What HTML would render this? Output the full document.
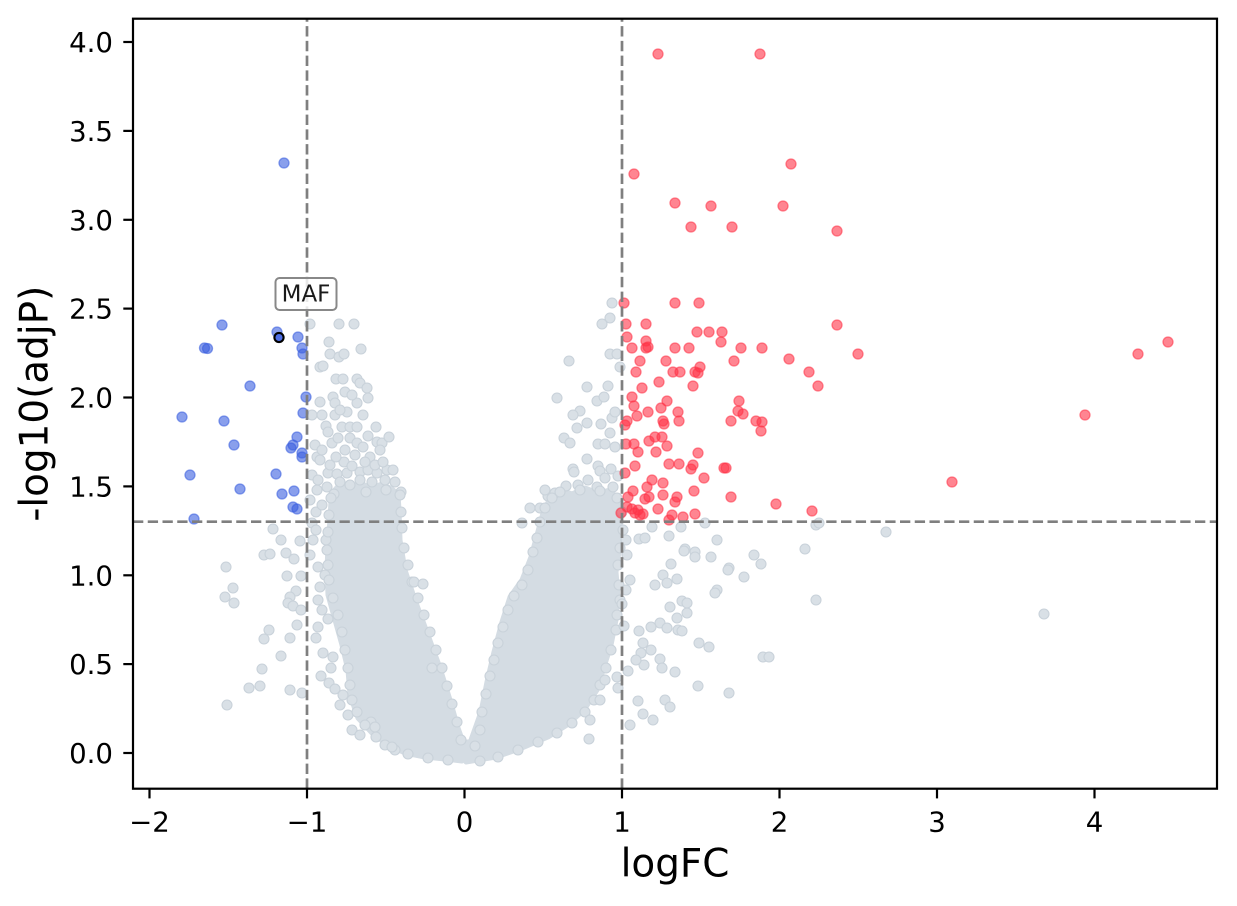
<!DOCTYPE html>
<html><head><meta charset="utf-8"><style>
html,body{margin:0;padding:0;background:#fff;}
svg{display:block;}
text{font-family:"DejaVu Sans","Liberation Sans",sans-serif;fill:#000;}
.g circle{fill:#d9e0e6;stroke:#c9d2da;stroke-width:1.1;}
.b circle{fill:#3a5fe0;fill-opacity:.6;stroke:#3a5fe0;stroke-opacity:.6;stroke-width:1.3;}
.r circle{fill:#ff3347;fill-opacity:.6;stroke:#ff3347;stroke-opacity:.6;stroke-width:1.3;}
</style></head><body>
<svg width="1237" height="906" viewBox="0 0 1237 906" xmlns="http://www.w3.org/2000/svg">
<rect width="1237" height="906" fill="#fff"/>
<!-- dense gray masses -->
<g fill="#d4dce3" stroke="#d4dce3" stroke-width="5" stroke-linejoin="round">
<polygon points="333,492 340,484 350,488 360,483 372,488 382,484 392,489 398,494 399,510 400,540 405,570 415,600 428,635 440,668 450,700 458,728 463,742 470,742 466,755 462,761 445,759 425,757 405,753 388,745 372,733 358,718 350,695 348,670 342,645 335,620 328,595 327,570 328,545 330,520 331,500"/>
<polygon points="466,762 466,752 471,740 481,712 487,682 494,652 502,622 510,597 522,580 531,557 537,535 543,513 550,498 560,490 572,494 585,488 598,493 610,490 617,498 620,510 621,530 619,552 616,572 618,596 616,620 611,645 604,667 597,690 584,710 567,725 548,737 522,748 496,757"/>
</g>
<g class="g">
<circle cx="310" cy="324" r="5"/><circle cx="339" cy="324" r="5"/><circle cx="354" cy="324" r="5"/><circle cx="329" cy="342" r="5"/><circle cx="361" cy="349" r="5"/><circle cx="330" cy="354" r="5"/><circle cx="339" cy="357" r="5"/><circle cx="344" cy="354" r="5"/><circle cx="320" cy="367" r="5"/><circle cx="323" cy="366" r="5"/><circle cx="336" cy="379" r="5"/><circle cx="343" cy="379" r="5"/><circle cx="357" cy="379" r="5"/><circle cx="360" cy="383" r="5"/><circle cx="367" cy="388" r="5"/><circle cx="368" cy="398" r="5"/><circle cx="320" cy="402" r="5"/><circle cx="333" cy="397" r="5"/><circle cx="335" cy="403" r="5"/><circle cx="357" cy="403" r="5"/><circle cx="312" cy="415" r="5"/><circle cx="322" cy="415" r="5"/><circle cx="335" cy="415" r="5"/><circle cx="347" cy="412" r="5"/><circle cx="363" cy="415" r="5"/><circle cx="326" cy="426" r="5"/><circle cx="342" cy="427" r="5"/><circle cx="350" cy="427" r="5"/><circle cx="357" cy="427" r="5"/><circle cx="376" cy="427" r="5"/><circle cx="315" cy="445" r="5"/><circle cx="332" cy="443" r="5"/><circle cx="338" cy="438" r="5"/><circle cx="350" cy="438" r="5"/><circle cx="357" cy="443" r="5"/><circle cx="363" cy="447" r="5"/><circle cx="377" cy="442" r="5"/><circle cx="382" cy="443" r="5"/><circle cx="389" cy="437" r="5"/><circle cx="317" cy="457" r="5"/><circle cx="320" cy="460" r="5"/><circle cx="370" cy="457" r="5"/><circle cx="380" cy="450" r="5"/><circle cx="328" cy="473" r="5"/><circle cx="337" cy="474" r="5"/><circle cx="347" cy="473" r="5"/><circle cx="360" cy="472" r="5"/><circle cx="368" cy="470" r="5"/><circle cx="377" cy="473" r="5"/><circle cx="387" cy="470" r="5"/><circle cx="393" cy="470" r="5"/><circle cx="317" cy="490" r="5"/><circle cx="327" cy="487" r="5"/><circle cx="401" cy="492" r="5"/>
<circle cx="345" cy="392" r="5"/><circle cx="352" cy="395" r="5"/><circle cx="340" cy="410" r="5"/><circle cx="328" cy="432" r="5"/><circle cx="345" cy="450" r="5"/><circle cx="355" cy="455" r="5"/><circle cx="365" cy="462" r="5"/><circle cx="330" cy="465" r="5"/><circle cx="340" cy="482" r="5"/><circle cx="350" cy="485" r="5"/><circle cx="360" cy="480" r="5"/><circle cx="372" cy="482" r="5"/><circle cx="385" cy="480" r="5"/><circle cx="395" cy="482" r="5"/><circle cx="312" cy="475" r="5"/><circle cx="318" cy="480" r="5"/><circle cx="310" cy="500" r="5"/><circle cx="316" cy="512" r="5"/>
<circle cx="344" cy="462" r="5"/><circle cx="352" cy="466" r="5"/><circle cx="375" cy="465" r="5"/><circle cx="383" cy="462" r="5"/><circle cx="336" cy="457" r="5"/><circle cx="322" cy="450" r="5"/><circle cx="368" cy="436" r="5"/><circle cx="386" cy="490" r="5"/><circle cx="334" cy="494" r="5"/><circle cx="366" cy="492" r="5"/>
<circle cx="313" cy="540" r="5"/><circle cx="326" cy="540" r="5"/><circle cx="318" cy="567" r="5"/><circle cx="320" cy="587" r="5"/><circle cx="318" cy="600" r="5"/><circle cx="328" cy="619" r="5"/><circle cx="318" cy="627" r="5"/><circle cx="316" cy="638" r="5"/><circle cx="323" cy="653" r="5"/><circle cx="333" cy="657" r="5"/><circle cx="331" cy="668" r="5"/><circle cx="321" cy="676" r="5"/><circle cx="329" cy="683" r="5"/><circle cx="335" cy="689" r="5"/><circle cx="343" cy="695" r="5"/><circle cx="348" cy="715" r="5"/><circle cx="352" cy="730" r="5"/><circle cx="371" cy="722" r="5"/><circle cx="375" cy="727" r="5"/><circle cx="312" cy="523" r="5"/><circle cx="316" cy="530" r="5"/><circle cx="322" cy="505" r="5"/><circle cx="310" cy="555" r="5"/><circle cx="325" cy="575" r="5"/><circle cx="322" cy="610" r="5"/><circle cx="340" cy="705" r="5"/><circle cx="360" cy="735" r="5"/><circle cx="385" cy="745" r="5"/><circle cx="395" cy="750" r="5"/>
<circle cx="273" cy="529" r="5"/><circle cx="281" cy="540" r="5"/><circle cx="300" cy="541" r="5"/><circle cx="264" cy="555" r="5"/><circle cx="270" cy="554" r="5"/><circle cx="286" cy="553" r="5"/><circle cx="294" cy="559" r="5"/><circle cx="226" cy="567" r="5"/><circle cx="287" cy="576" r="5"/><circle cx="301" cy="576" r="5"/><circle cx="233" cy="588" r="5"/><circle cx="225" cy="597" r="5"/><circle cx="234" cy="603" r="5"/><circle cx="296" cy="591" r="5"/><circle cx="290" cy="597" r="5"/><circle cx="288" cy="603" r="5"/><circle cx="293" cy="606" r="5"/><circle cx="301" cy="610" r="5"/><circle cx="297" cy="625" r="5"/><circle cx="269" cy="630" r="5"/><circle cx="264" cy="639" r="5"/><circle cx="290" cy="638" r="5"/><circle cx="281" cy="656" r="5"/><circle cx="262" cy="669" r="5"/><circle cx="249" cy="688" r="5"/><circle cx="260" cy="686" r="5"/><circle cx="290" cy="690" r="5"/><circle cx="302" cy="693" r="5"/><circle cx="227" cy="705" r="5"/>
<circle cx="331" cy="498" r="5"/><circle cx="329" cy="515" r="5"/><circle cx="328" cy="532" r="5"/><circle cx="327" cy="550" r="5"/><circle cx="328" cy="565" r="5"/><circle cx="329" cy="580" r="5"/><circle cx="333" cy="598" r="5"/><circle cx="338" cy="615" r="5"/><circle cx="342" cy="632" r="5"/><circle cx="345" cy="650" r="5"/><circle cx="348" cy="668" r="5"/><circle cx="350" cy="685" r="5"/><circle cx="352" cy="700" r="5"/><circle cx="357" cy="712" r="5"/><circle cx="365" cy="725" r="5"/><circle cx="376" cy="737" r="5"/><circle cx="392" cy="747" r="5"/><circle cx="408" cy="754" r="5"/><circle cx="428" cy="758" r="5"/><circle cx="448" cy="760" r="5"/>
<circle cx="400" cy="495" r="5"/><circle cx="401" cy="512" r="5"/><circle cx="402" cy="528" r="5"/><circle cx="404" cy="548" r="5"/><circle cx="408" cy="565" r="5"/><circle cx="412" cy="582" r="5"/><circle cx="418" cy="598" r="5"/><circle cx="424" cy="615" r="5"/><circle cx="430" cy="632" r="5"/><circle cx="436" cy="650" r="5"/><circle cx="442" cy="668" r="5"/><circle cx="447" cy="686" r="5"/><circle cx="452" cy="704" r="5"/><circle cx="457" cy="722" r="5"/><circle cx="461" cy="740" r="5"/><circle cx="414" cy="582" r="5"/><circle cx="423" cy="584" r="5"/><circle cx="432" cy="668" r="5"/>
<circle cx="612" cy="303" r="5"/><circle cx="610" cy="318" r="5"/><circle cx="602" cy="324" r="5"/><circle cx="610" cy="354" r="5"/><circle cx="617" cy="354" r="5"/><circle cx="569" cy="361" r="5"/><circle cx="620" cy="367" r="5"/><circle cx="587" cy="387" r="5"/><circle cx="608" cy="386" r="5"/><circle cx="557" cy="398" r="5"/><circle cx="597" cy="401" r="5"/><circle cx="604" cy="397" r="5"/><circle cx="580" cy="411" r="5"/><circle cx="573" cy="415" r="5"/><circle cx="587" cy="423" r="5"/><circle cx="577" cy="428" r="5"/><circle cx="601" cy="424" r="5"/><circle cx="612" cy="418" r="5"/><circle cx="615" cy="412" r="5"/><circle cx="610" cy="433" r="5"/><circle cx="564" cy="438" r="5"/><circle cx="570" cy="443" r="5"/><circle cx="598" cy="444" r="5"/><circle cx="605" cy="444" r="5"/><circle cx="615" cy="447" r="5"/><circle cx="587" cy="459" r="5"/><circle cx="573" cy="469" r="5"/><circle cx="574" cy="472" r="5"/><circle cx="598" cy="466" r="5"/><circle cx="600" cy="471" r="5"/><circle cx="611" cy="469" r="5"/><circle cx="578" cy="485" r="5"/><circle cx="597" cy="487" r="5"/><circle cx="613" cy="487" r="5"/><circle cx="548" cy="496" r="5"/><circle cx="555" cy="493" r="5"/><circle cx="530" cy="508" r="5"/><circle cx="540" cy="508" r="5"/><circle cx="522" cy="523" r="5"/>
<circle cx="566" cy="486" r="5"/><circle cx="588" cy="480" r="5"/><circle cx="605" cy="478" r="5"/><circle cx="618" cy="476" r="5"/><circle cx="545" cy="490" r="5"/>
<circle cx="475" cy="746" r="5"/><circle cx="480" cy="730" r="5"/><circle cx="482" cy="712" r="5"/><circle cx="486" cy="694" r="5"/><circle cx="490" cy="676" r="5"/><circle cx="494" cy="660" r="5"/><circle cx="498" cy="643" r="5"/><circle cx="503" cy="627" r="5"/><circle cx="508" cy="610" r="5"/><circle cx="514" cy="596" r="5"/><circle cx="522" cy="585" r="5"/><circle cx="528" cy="570" r="5"/><circle cx="533" cy="552" r="5"/><circle cx="537" cy="538" r="5"/><circle cx="540" cy="522" r="5"/><circle cx="545" cy="508" r="5"/><circle cx="552" cy="498" r="5"/>
<circle cx="560" cy="492" r="5"/><circle cx="580" cy="490" r="5"/><circle cx="600" cy="491" r="5"/><circle cx="617" cy="498" r="5"/><circle cx="622" cy="512" r="5"/><circle cx="623" cy="530" r="5"/><circle cx="620" cy="548" r="5"/><circle cx="618" cy="565" r="5"/><circle cx="619" cy="585" r="5"/><circle cx="620" cy="600" r="5"/><circle cx="617" cy="615" r="5"/><circle cx="616" cy="630" r="5"/><circle cx="611" cy="650" r="5"/><circle cx="606" cy="668" r="5"/><circle cx="600" cy="685" r="5"/><circle cx="594" cy="700" r="5"/><circle cx="585" cy="712" r="5"/><circle cx="572" cy="723" r="5"/><circle cx="557" cy="733" r="5"/><circle cx="538" cy="742" r="5"/><circle cx="518" cy="750" r="5"/><circle cx="498" cy="757" r="5"/><circle cx="480" cy="761" r="5"/>
<circle cx="589" cy="739" r="5"/><circle cx="617" cy="677" r="5"/><circle cx="618" cy="688" r="5"/><circle cx="624" cy="626" r="5"/><circle cx="622" cy="604" r="5"/><circle cx="605" cy="680" r="5"/><circle cx="600" cy="700" r="5"/><circle cx="590" cy="720" r="5"/>
<circle cx="652" cy="527" r="5"/><circle cx="669" cy="536" r="5"/><circle cx="681" cy="527" r="5"/><circle cx="705" cy="523" r="5"/><circle cx="717" cy="540" r="5"/><circle cx="685" cy="549" r="5"/><circle cx="695" cy="552" r="5"/><circle cx="639" cy="539" r="5"/><circle cx="645" cy="538" r="5"/><circle cx="805" cy="549" r="5"/><circle cx="684" cy="551" r="5"/><circle cx="695" cy="557" r="5"/><circle cx="711" cy="557" r="5"/><circle cx="754" cy="555" r="5"/><circle cx="761" cy="564" r="5"/><circle cx="729" cy="568" r="5"/><circle cx="728" cy="570" r="5"/><circle cx="744" cy="577" r="5"/><circle cx="671" cy="564" r="5"/><circle cx="677" cy="579" r="5"/><circle cx="663" cy="575" r="5"/><circle cx="667" cy="583" r="5"/><circle cx="655" cy="585" r="5"/><circle cx="717" cy="590" r="5"/><circle cx="715" cy="593" r="5"/><circle cx="816" cy="600" r="5"/><circle cx="682" cy="601" r="5"/><circle cx="687" cy="603" r="5"/><circle cx="670" cy="607" r="5"/><circle cx="687" cy="613" r="5"/><circle cx="677" cy="618" r="5"/><circle cx="660" cy="623" r="5"/><circle cx="651" cy="627" r="5"/><circle cx="667" cy="628" r="5"/><circle cx="678" cy="630" r="5"/><circle cx="682" cy="631" r="5"/><circle cx="639" cy="631" r="5"/><circle cx="643" cy="643" r="5"/><circle cx="651" cy="650" r="5"/><circle cx="641" cy="653" r="5"/><circle cx="699" cy="643" r="5"/><circle cx="709" cy="647" r="5"/><circle cx="763" cy="657" r="5"/><circle cx="769" cy="657" r="5"/><circle cx="660" cy="659" r="5"/><circle cx="662" cy="668" r="5"/><circle cx="644" cy="665" r="5"/><circle cx="636" cy="660" r="5"/><circle cx="628" cy="671" r="5"/><circle cx="675" cy="672" r="5"/><circle cx="698" cy="686" r="5"/><circle cx="729" cy="693" r="5"/><circle cx="638" cy="701" r="5"/><circle cx="665" cy="700" r="5"/><circle cx="670" cy="707" r="5"/><circle cx="643" cy="714" r="5"/><circle cx="653" cy="720" r="5"/><circle cx="630" cy="725" r="5"/><circle cx="816" cy="525" r="5"/><circle cx="819" cy="523" r="5"/><circle cx="886" cy="532" r="5"/><circle cx="1044" cy="614" r="5"/><circle cx="626" cy="540" r="5"/><circle cx="627" cy="555" r="5"/><circle cx="630" cy="580" r="5"/><circle cx="626" cy="590" r="5"/>
</g>
<!-- down-regulated -->
<g class="b">
<circle cx="284" cy="163" r="5"/><circle cx="222" cy="325" r="5"/><circle cx="204.5" cy="348" r="5"/><circle cx="207.5" cy="348.5" r="5"/><circle cx="277" cy="332" r="5"/><circle cx="298" cy="337" r="5"/><circle cx="302" cy="348" r="5"/><circle cx="303" cy="354" r="5"/><circle cx="250" cy="386" r="5"/><circle cx="306" cy="397" r="5"/><circle cx="182" cy="417" r="5"/><circle cx="224" cy="421" r="5"/><circle cx="303" cy="413" r="5"/><circle cx="234" cy="445" r="5"/><circle cx="297" cy="437" r="5"/><circle cx="293" cy="445" r="5"/><circle cx="291" cy="448" r="5"/><circle cx="302" cy="453" r="5"/><circle cx="302" cy="457" r="5"/><circle cx="190" cy="475" r="5"/><circle cx="276" cy="474" r="5"/><circle cx="240" cy="489" r="5"/><circle cx="282" cy="494" r="5"/><circle cx="294" cy="491" r="5"/><circle cx="293" cy="507" r="5"/><circle cx="297" cy="509" r="5"/><circle cx="194" cy="519" r="5"/>
</g>
<!-- up-regulated -->
<g class="r">
<circle cx="658" cy="54" r="5"/><circle cx="760" cy="54" r="5"/><circle cx="791" cy="164" r="5"/><circle cx="634" cy="174" r="5"/><circle cx="675" cy="203" r="5"/><circle cx="711" cy="206" r="5"/><circle cx="783" cy="206" r="5"/><circle cx="691" cy="227" r="5"/><circle cx="732" cy="227" r="5"/><circle cx="837" cy="231" r="5"/>
<circle cx="624" cy="303" r="5"/><circle cx="675" cy="303" r="5"/><circle cx="699" cy="303" r="5"/><circle cx="626" cy="324" r="5"/><circle cx="646" cy="324" r="5"/><circle cx="837" cy="325" r="5"/><circle cx="627" cy="337" r="5"/><circle cx="697" cy="332" r="5"/><circle cx="709" cy="332" r="5"/><circle cx="722" cy="332" r="5"/><circle cx="721" cy="342" r="5"/><circle cx="646" cy="341" r="5"/>
<circle cx="632" cy="348" r="5"/><circle cx="646" cy="348" r="5"/><circle cx="648" cy="347" r="5"/><circle cx="675" cy="348" r="5"/><circle cx="689" cy="348" r="5"/><circle cx="741" cy="348" r="5"/><circle cx="762" cy="348" r="5"/><circle cx="858" cy="354" r="5"/><circle cx="1138" cy="354" r="5"/><circle cx="1168" cy="342" r="5"/>
<circle cx="640" cy="361" r="5"/><circle cx="666" cy="361" r="5"/><circle cx="734" cy="361" r="5"/><circle cx="789" cy="359" r="5"/><circle cx="636" cy="372" r="5"/><circle cx="673" cy="372" r="5"/><circle cx="680" cy="372" r="5"/><circle cx="695" cy="372" r="5"/><circle cx="700" cy="367" r="5"/><circle cx="698" cy="373" r="5"/><circle cx="809" cy="372" r="5"/>
<circle cx="659" cy="382" r="5"/><circle cx="642" cy="388" r="5"/><circle cx="693" cy="386" r="5"/><circle cx="818" cy="386" r="5"/><circle cx="632" cy="397" r="5"/><circle cx="667" cy="401" r="5"/><circle cx="634" cy="406" r="5"/><circle cx="661" cy="408" r="5"/><circle cx="739" cy="401" r="5"/>
<circle cx="648" cy="412" r="5"/><circle cx="678" cy="412" r="5"/><circle cx="738" cy="411" r="5"/><circle cx="743" cy="414" r="5"/><circle cx="637" cy="416" r="5"/><circle cx="627" cy="421" r="5"/><circle cx="663" cy="421" r="5"/><circle cx="664" cy="424" r="5"/><circle cx="679" cy="421" r="5"/><circle cx="731" cy="421" r="5"/><circle cx="756" cy="421" r="5"/><circle cx="762" cy="422" r="5"/><circle cx="761" cy="431" r="5"/><circle cx="625" cy="425" r="5"/><circle cx="1085" cy="415" r="5"/>
<circle cx="649" cy="441" r="5"/><circle cx="655" cy="437" r="5"/><circle cx="662" cy="437" r="5"/><circle cx="626" cy="444" r="5"/><circle cx="634" cy="444" r="5"/><circle cx="638" cy="452" r="5"/><circle cx="656" cy="452" r="5"/><circle cx="667" cy="446" r="5"/><circle cx="698" cy="453" r="5"/>
<circle cx="635" cy="466" r="5"/><circle cx="625" cy="473" r="5"/><circle cx="669" cy="464" r="5"/><circle cx="679" cy="464" r="5"/><circle cx="691" cy="469" r="5"/><circle cx="693" cy="465" r="5"/><circle cx="724" cy="468" r="5"/><circle cx="726" cy="468" r="5"/>
<circle cx="704" cy="478" r="5"/><circle cx="652" cy="480" r="5"/><circle cx="663" cy="483" r="5"/><circle cx="647" cy="487" r="5"/><circle cx="633" cy="491" r="5"/><circle cx="694" cy="491" r="5"/><circle cx="952" cy="482" r="5"/>
<circle cx="663" cy="495" r="5"/><circle cx="649" cy="497" r="5"/><circle cx="645" cy="499" r="5"/><circle cx="677" cy="497" r="5"/><circle cx="675" cy="502" r="5"/><circle cx="628" cy="497" r="5"/><circle cx="731" cy="497" r="5"/><circle cx="776" cy="504" r="5"/><circle cx="812" cy="511" r="5"/>
<circle cx="627" cy="507" r="5"/><circle cx="632" cy="509" r="5"/><circle cx="635" cy="513" r="5"/><circle cx="640" cy="515" r="5"/><circle cx="643" cy="514" r="5"/><circle cx="638" cy="510" r="5"/><circle cx="658" cy="509" r="5"/><circle cx="621" cy="513" r="5"/><circle cx="672" cy="515" r="5"/><circle cx="683" cy="517" r="5"/><circle cx="695" cy="514" r="5"/><circle cx="669" cy="520" r="5"/>
</g>
<!-- highlighted MAF point -->
<circle cx="279" cy="337.5" r="4.6" fill="#4f6fe6" stroke="#000" stroke-width="2.1"/>
<!-- threshold lines -->
<g stroke="#7f7f7f" stroke-width="2.7" stroke-dasharray="10.3 4.45" fill="none">
<line x1="307" y1="788.7" x2="307" y2="18.7"/>
<line x1="622" y1="788.7" x2="622" y2="18.7"/>
<line x1="133" y1="521.7" x2="1217" y2="521.7"/>
</g>
<!-- annotation -->
<rect x="275.5" y="278" width="61" height="32" rx="4" ry="4" fill="#fff" fill-opacity="0.82" stroke="#888" stroke-width="2"/>
<text x="306" y="301.5" font-size="23" text-anchor="middle" style="fill:#1a1a1a">MAF</text>
<!-- axes frame -->
<rect x="133" y="18.7" width="1084" height="770" fill="none" stroke="#000" stroke-width="2.2"/>
<!-- ticks -->
<g stroke="#000" stroke-width="2.2">
<line x1="149.5" y1="788.7" x2="149.5" y2="798.4"/>
<line x1="307" y1="788.7" x2="307" y2="798.4"/>
<line x1="464.5" y1="788.7" x2="464.5" y2="798.4"/>
<line x1="622" y1="788.7" x2="622" y2="798.4"/>
<line x1="779.5" y1="788.7" x2="779.5" y2="798.4"/>
<line x1="937" y1="788.7" x2="937" y2="798.4"/>
<line x1="1094.5" y1="788.7" x2="1094.5" y2="798.4"/>
<line x1="123.3" y1="753" x2="133" y2="753"/>
<line x1="123.3" y1="664.1" x2="133" y2="664.1"/>
<line x1="123.3" y1="575.3" x2="133" y2="575.3"/>
<line x1="123.3" y1="486.4" x2="133" y2="486.4"/>
<line x1="123.3" y1="397.5" x2="133" y2="397.5"/>
<line x1="123.3" y1="308.6" x2="133" y2="308.6"/>
<line x1="123.3" y1="219.8" x2="133" y2="219.8"/>
<line x1="123.3" y1="130.9" x2="133" y2="130.9"/>
<line x1="123.3" y1="42" x2="133" y2="42"/>
</g>
<g font-size="27.6" text-anchor="middle">
<text x="149.5" y="831.7">−2</text>
<text x="307" y="831.7">−1</text>
<text x="464.5" y="831.7">0</text>
<text x="622" y="831.7">1</text>
<text x="779.5" y="831.7">2</text>
<text x="937" y="831.7">3</text>
<text x="1094.5" y="831.7">4</text>
</g>
<g font-size="27.6" text-anchor="end">
<text x="113" y="763">0.0</text>
<text x="113" y="674.1">0.5</text>
<text x="113" y="585.3">1.0</text>
<text x="113" y="496.4">1.5</text>
<text x="113" y="407.5">2.0</text>
<text x="113" y="318.6">2.5</text>
<text x="113" y="229.8">3.0</text>
<text x="113" y="140.9">3.5</text>
<text x="113" y="52">4.0</text>
</g>
<text x="675" y="876.5" font-size="38.9" text-anchor="middle">logFC</text>
<text transform="translate(47.5,403.7) rotate(-90)" font-size="38.9" text-anchor="middle">-log10(adjP)</text>
</svg>
</body></html>
